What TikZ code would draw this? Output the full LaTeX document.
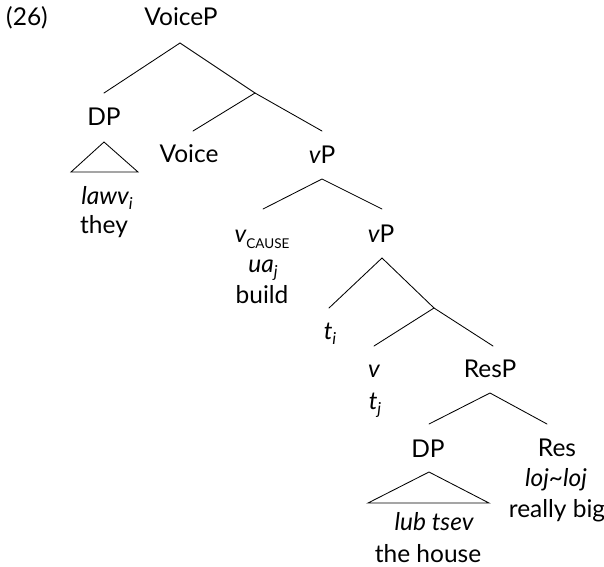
\documentclass[tikz,border=0pt]{standalone}
\usepackage{fontspec}
\setmainfont{Lato}
% italic index set low and small, as in t_i
\newcommand{\sbs}[1]{\raisebox{-5.5pt}{\fontsize{16.5}{16.5}\selectfont\itshape #1}}
\newcommand{\cause}{\raisebox{-6pt}{\fontsize{13.5}{14}\selectfont CAUSE}}
\begin{document}
\begin{tikzpicture}[x=1pt,y=-1pt,
  lbl/.style={anchor=base,inner sep=0pt,font=\fontsize{24.5}{30}\selectfont},
  branch/.style={line width=0.85pt,line cap=round},
  tri/.style={line width=0.85pt,line join=miter}]
\useasboundingbox (0,0) rectangle (604,566);

% example number
\node[lbl] (ex) at (27,25) {(26)};

% labels
\node[lbl] (voiceP) at (181,25) {VoiceP};
\node[lbl] (dpA) at (104,125) {DP};
\node[lbl] (lawv) at (107,204) {\itshape lawv\sbs{i}};
\node[lbl] (they) at (104,233) {they};
\node[lbl] (voice) at (189,162) {Voice};
\node[lbl] (vPA) at (322,163) {\itshape v\upshape P};
\node[lbl] (vcause) at (262,242) {\itshape v\upshape\cause};
\node[lbl] (ua) at (263,272) {\itshape ua\sbs{j}};
\node[lbl] (build) at (262,303) {build};
\node[lbl] (vPB) at (381,242) {\itshape v\upshape P};
\node[lbl] (ti) at (330,339) {\itshape t\sbs{i}};
\node[lbl] (vhead) at (374,377) {\itshape v};
\node[lbl] (tj) at (375,409) {\itshape t\sbs{j}};
\node[lbl] (resP) at (490,377) {ResP};
\node[lbl] (dpB) at (428,457) {DP};
\node[lbl] (lub) at (434,530) {\itshape lub tsev};
\node[lbl] (house) at (428,562) {the house};
\node[lbl] (res) at (557,456) {Res};
\node[lbl] (loj) at (556,486) {\itshape loj\char"7E loj};
\node[lbl] (big) at (557,517) {really big};

% branching points and branch ends
\coordinate (voiceP-b) at (180,43);
\coordinate (dpA-t) at (104,93);
\coordinate (voiceBar) at (255,93);
\coordinate (voice-t) at (193,131);
\coordinate (vPA-t) at (322,131);
\coordinate (vPA-b) at (322,179);
\coordinate (vcause-t) at (263,209);
\coordinate (vPB-t) at (382,209);
\coordinate (vPB-b) at (382,258);
\coordinate (ti-t) at (329,308);
\coordinate (vBar) at (434,308);
\coordinate (vhead-t) at (374,346);
\coordinate (resP-t) at (493,346);
\coordinate (resP-b) at (490,393);
\coordinate (dpB-t) at (429,424);
\coordinate (res-t) at (547,424);

% triangles
\coordinate (triA-top) at (104,142);
\coordinate (triA-l) at (71,172);
\coordinate (triA-r) at (138,172);
\coordinate (triB-top) at (429,472);
\coordinate (triB-l) at (368,503);
\coordinate (triB-r) at (489,503);

% branches
\draw[branch] (dpA-t) -- (voiceP-b) -- (voiceBar);
\draw[branch] (voice-t) -- (voiceBar) -- (vPA-t);
\draw[branch] (vcause-t) -- (vPA-b) -- (vPB-t);
\draw[branch] (ti-t) -- (vPB-b) -- (vBar);
\draw[branch] (vhead-t) -- (vBar) -- (resP-t);
\draw[branch] (dpB-t) -- (resP-b) -- (res-t);

\draw[tri] (triA-top) -- (triA-l) -- (triA-r) -- cycle;
\draw[tri] (triB-top) -- (triB-l) -- (triB-r) -- cycle;
\end{tikzpicture}
\end{document}
